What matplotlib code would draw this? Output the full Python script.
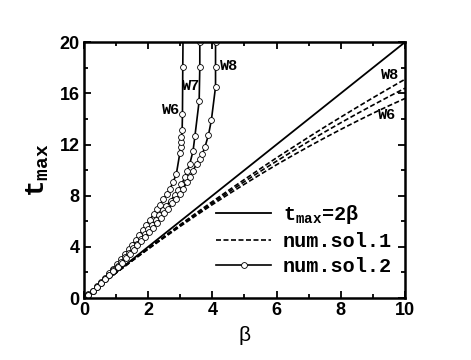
import matplotlib
matplotlib.use("Agg")
import matplotlib.pyplot as plt
from matplotlib.ticker import MultipleLocator

# fonts: bold sans for ticks, bold mono for labels like in the original
plt.rcParams['mathtext.fontset'] = 'custom'
plt.rcParams['mathtext.bf'] = 'Liberation Mono:bold'
plt.rcParams['mathtext.rm'] = 'Liberation Mono:bold'

# exact line t_max = 2*beta
beta_exact = [0, 10]
t_exact = [0, 20]

# num.sol.1 (dashed)
beta_dash = [0, 0.5, 1, 1.5, 2, 2.5, 3, 3.5, 4, 4.5, 5, 5.5, 6, 6.5, 7, 7.5, 8, 8.5, 9, 9.5, 10]
t_dash_w6 = [0, 0.99, 1.96, 2.90, 3.82, 4.72, 5.60, 6.46, 7.30, 8.11, 8.90, 9.67,
             10.42, 11.14, 11.84, 12.52, 13.18, 13.82, 14.44, 15.03, 15.60]
t_dash_w7 = [0, 0.99, 1.96, 2.92, 3.86, 4.78, 5.68, 6.56, 7.42, 8.27, 9.10, 9.91,
             10.70, 11.48, 12.24, 12.98, 13.70, 14.40, 15.08, 15.75, 16.40]
t_dash_w8 = [0, 0.99, 1.97, 2.94, 3.88, 4.82, 5.74, 6.65, 7.54, 8.41, 9.27, 10.12,
             10.96, 11.77, 12.58, 13.37, 14.14, 14.90, 15.65, 16.38, 17.10]

# num.sol.2 (circles)
beta_w6 = [0, 0.13, 0.27, 0.40, 0.53, 0.66, 0.79, 0.92, 1.04, 1.16, 1.28, 1.40, 1.51,
           1.62, 1.73, 1.84, 1.95, 2.06, 2.18, 2.28, 2.37, 2.47, 2.58, 2.68, 2.78,
           2.88, 2.99, 3.01, 3.02, 3.04, 3.06, 3.07, 3.08, 3.09]
t_w6 = [0, 0.28, 0.59, 0.91, 1.24, 1.58, 1.94, 2.31, 2.67, 3.04, 3.42, 3.81, 4.18,
        4.56, 4.95, 5.34, 5.74, 6.14, 6.58, 6.94, 7.26, 7.72, 8.10, 8.52, 9.06,
        9.70, 11.35, 11.80, 12.20, 12.57, 13.10, 14.35, 18.04, 21.0]

beta_w7 = [0, 0.13, 0.27, 0.40, 0.53, 0.66, 0.79, 0.92, 1.05, 1.17, 1.29, 1.41, 1.53,
           1.65, 1.77, 1.89, 2.01, 2.12, 2.24, 2.35, 2.47, 2.57, 2.70, 2.83, 2.94,
           3.04, 3.15, 3.22, 3.30, 3.40, 3.46, 3.59, 3.61, 3.61]
t_w7 = [0, 0.27, 0.57, 0.87, 1.18, 1.50, 1.83, 2.17, 2.52, 2.85, 3.19, 3.54, 3.89,
        4.25, 4.61, 4.98, 5.36, 5.71, 6.10, 6.46, 6.90, 7.22, 7.62, 8.02, 8.42,
        8.90, 9.44, 9.96, 10.50, 11.50, 12.70, 15.40, 18.04, 20.0]

beta_w8 = [0, 0.13, 0.27, 0.40, 0.53, 0.66, 0.79, 0.92, 1.05, 1.18, 1.31, 1.43, 1.55,
           1.67, 1.79, 1.91, 2.03, 2.15, 2.27, 2.39, 2.51, 2.63, 2.76, 2.88, 2.99,
           3.09, 3.20, 3.30, 3.40, 3.51, 3.61, 3.69, 3.77, 3.88, 3.97, 4.10, 4.10, 4.10]
t_w8 = [0, 0.27, 0.56, 0.85, 1.15, 1.46, 1.77, 2.10, 2.43, 2.77, 3.11, 3.44, 3.77,
        4.11, 4.45, 4.80, 5.15, 5.50, 5.86, 6.23, 6.61, 6.99, 7.40, 7.74, 8.13,
        8.50, 9.04, 9.44, 9.96, 10.49, 10.88, 11.27, 11.80, 12.75, 13.90, 16.50, 18.04, 20.0]

fig = plt.figure(figsize=(4.71, 3.6), dpi=100)
ax = fig.add_axes([0.178, 0.172, 0.682, 0.711])

ax.plot(beta_exact, t_exact, color='black', lw=1.3, label=r'$\mathbf{t}_{\mathbf{max}}$=2β')
ax.plot(beta_dash, t_dash_w6, color='black', lw=1.2, ls=(0, (3, 1.5)), label='num.sol.1')
ax.plot(beta_dash, t_dash_w7, color='black', lw=1.2, ls=(0, (3, 1.5)))
ax.plot(beta_dash, t_dash_w8, color='black', lw=1.2, ls=(0, (3, 1.5)))

circ = dict(color='black', lw=1.2, marker='o', ms=4.2, mfc='white', mec='black', mew=0.6)
ax.plot(beta_w6, t_w6, label='num.sol.2', **circ)
ax.plot(beta_w7, t_w7, **circ)
ax.plot(beta_w8, t_w8, **circ)

ax.set_xlim(0, 10)
ax.set_ylim(0, 20)
ax.xaxis.set_major_locator(MultipleLocator(2))
ax.xaxis.set_minor_locator(MultipleLocator(1))
ax.yaxis.set_major_locator(MultipleLocator(4))
ax.yaxis.set_minor_locator(MultipleLocator(2))
ax.tick_params(which='both', direction='in', top=True, right=True, width=1.3)
ax.tick_params(which='major', length=5, labelsize=13, pad=3)
ax.tick_params(which='minor', length=3)
for lab in ax.get_xticklabels() + ax.get_yticklabels():
    lab.set_fontfamily('Liberation Sans')
    lab.set_fontweight('bold')
for sp in ax.spines.values():
    sp.set_linewidth(1.8)

ax.set_xlabel('β', fontsize=15, family='Liberation Sans', labelpad=5)
ax.set_ylabel(r'$\mathbf{t}_{\mathbf{max}}$', fontsize=20, labelpad=6)

# curve names
mono = dict(family='Liberation Mono', fontweight='bold', fontsize=11, ha='center', va='center')
ax.text(2.71, 14.7, 'W6', **mono)
ax.text(3.35, 16.55, 'W7', **mono)
ax.text(4.52, 18.1, 'W8', **mono)
ax.text(9.53, 17.4, 'W8', **mono)
ax.text(9.45, 14.3, 'W6', **mono)

leg = ax.legend(loc='lower right', bbox_to_anchor=(1.016, 0.015), frameon=False,
                prop={'family': 'Liberation Mono', 'weight': 'bold', 'size': 14.5},
                handlelength=2.7, numpoints=1, labelspacing=0.3, handletextpad=0.6)

fig.savefig('out.png', dpi=100)
